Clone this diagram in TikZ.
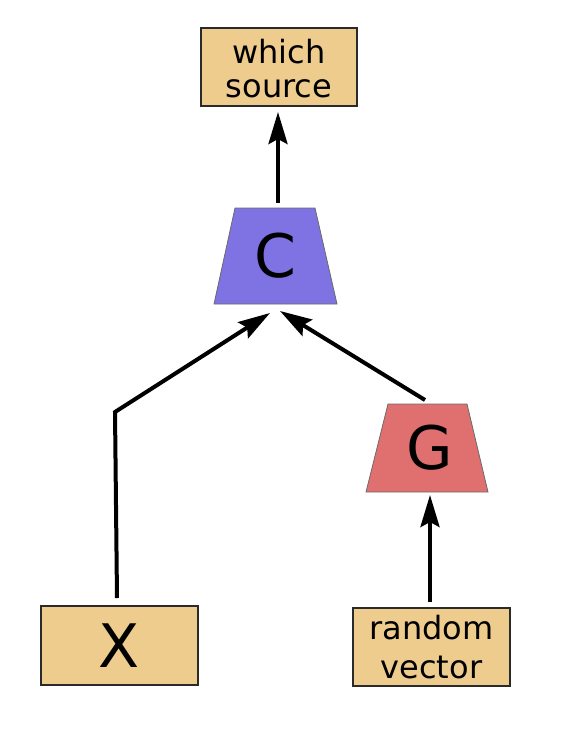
\documentclass[tikz,border=0pt]{standalone}
\usepackage{fontspec}
\setmainfont{DejaVu Sans}
\usetikzlibrary{arrows.meta}
\definecolor{tan}{HTML}{EECC8E}
\definecolor{cblue}{HTML}{7F73E3}
\definecolor{gred}{HTML}{E07070}
\definecolor{edge}{HTML}{2A2A2A}
\begin{document}
\begin{tikzpicture}[x=1pt,y=-1pt,
  tanbox/.style={draw=edge,line width=1.3pt,fill=tan,inner sep=0pt,align=center},
  bigtxt/.style={font=\fontsize{60}{70}\selectfont,inner sep=0pt},
  arr/.style={line width=4pt,-{Stealth[length=32pt,width=19pt,inset=5pt]}},
  trap/.style={draw=edge!70,line width=0.8pt}]
\useasboundingbox (0,0) rectangle (588,750);
% boxes
\node[tanbox,minimum width=156pt,minimum height=78pt] (src) at (279,67) {};
\node[align=center,inner sep=0pt,font=\fontsize{32}{34}\selectfont] (srct) at (279,69) {which\\source};
\node[tanbox,minimum width=157pt,minimum height=79pt,bigtxt] (x) at (119.5,645.5) {X};
\node[tanbox,minimum width=157pt,minimum height=78pt,font=\fontsize{32}{39}\selectfont] (rv) at (431.5,647) {random\\vector};
% C trapezoid
\node[minimum width=123pt,minimum height=96pt,inner sep=0pt] (C) at (275.5,256) {};
\path[trap,fill=cblue] (235,208) -- (315,208) -- (337,304) -- (214,304) -- cycle;
\node[bigtxt] (Ct) at (C) {C};
% G trapezoid
\node[minimum width=122pt,minimum height=88pt,inner sep=0pt] (G) at (427,448) {};
\path[trap,fill=gred] (388,404) -- (467,404) -- (488,492) -- (366,492) -- cycle;
\node[bigtxt] (Gt) at (429.5,448) {G};
% arrow coordinates
\coordinate (ctop) at (278,203);
\coordinate (srcin) at (278,112);
\coordinate (xout) at (117,598);
\coordinate (bend) at (115,412);
\coordinate (cinL) at (270,313);
\coordinate (gout) at (425,400);
\coordinate (cinR) at (280,311);
\coordinate (rvout) at (430,602);
\coordinate (gin) at (430,495);
\draw[arr] (ctop) -- (srcin);
\draw[arr] (xout) -- (bend) -- (cinL);
\draw[arr] (gout) -- (cinR);
\draw[arr] (rvout) -- (gin);
\end{tikzpicture}
\end{document}
